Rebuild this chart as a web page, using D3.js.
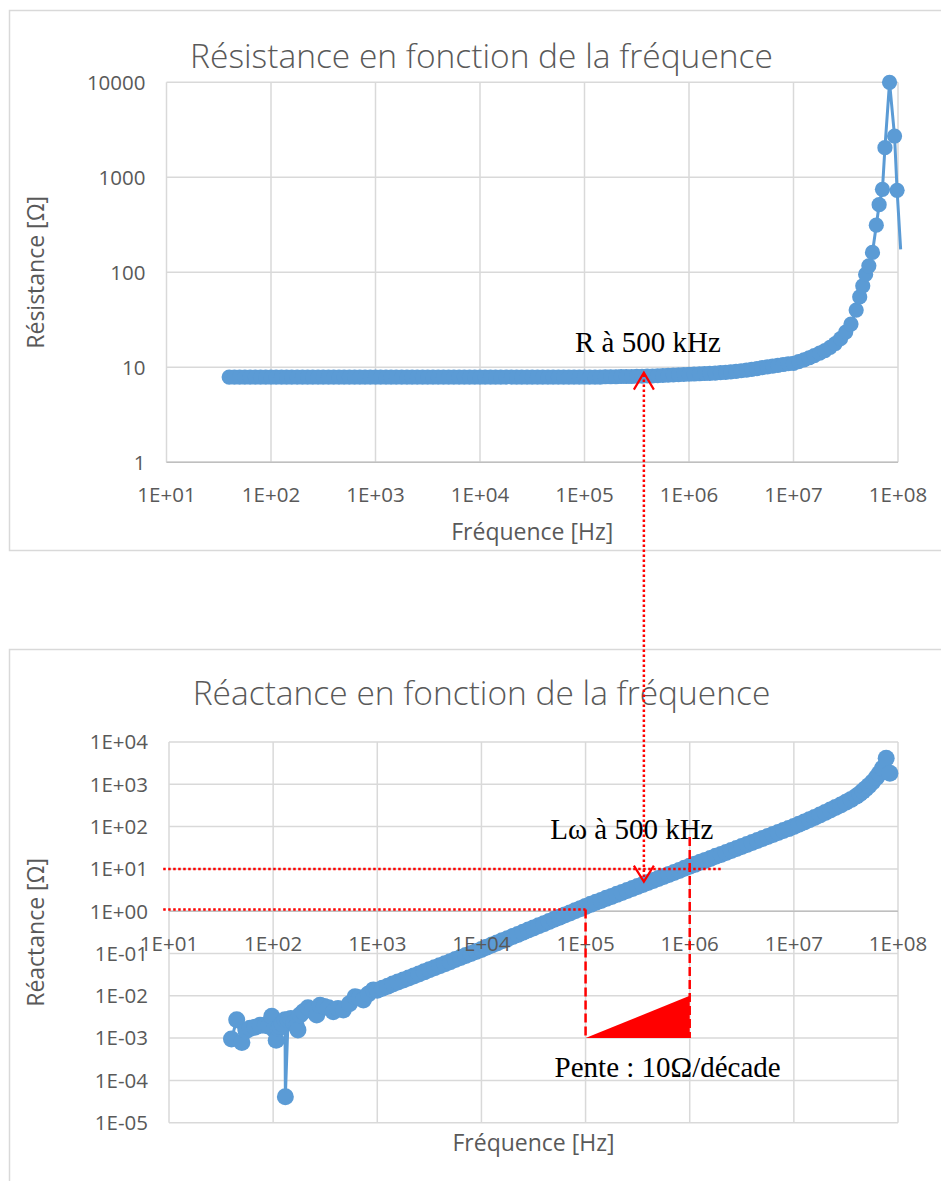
<!DOCTYPE html>
<html><head><meta charset="utf-8">
<script src="https://cdn.jsdelivr.net/npm/d3@7"></script>
<style>
body{margin:0;background:#fff;}
svg{display:block;font-family:"Open Sans",sans-serif;}
</style></head><body>
<svg id="c" width="941" height="1181"></svg>
<script>
// ---------- DATA ----------
const resFreq = [
 3.98e1,4.47e1,5.01e1,5.62e1,6.31e1,7.08e1,7.94e1,8.91e1,
 1e2,1.12e2,1.26e2,1.41e2,1.58e2,1.78e2,2e2,2.24e2,2.51e2,2.82e2,3.16e2,3.55e2,3.98e2,4.47e2,5.01e2,5.62e2,6.31e2,7.08e2,7.94e2,8.91e2,
 1e3,1.12e3,1.26e3,1.41e3,1.58e3,1.78e3,2e3,2.24e3,2.51e3,2.82e3,3.16e3,3.55e3,3.98e3,4.47e3,5.01e3,5.62e3,6.31e3,7.08e3,7.94e3,8.91e3,
 1e4,1.12e4,1.26e4,1.41e4,1.58e4,1.78e4,2e4,2.24e4,2.51e4,2.82e4,3.16e4,3.55e4,3.98e4,4.47e4,5.01e4,5.62e4,6.31e4,7.08e4,7.94e4,8.91e4,
 1e5,1.12e5,1.26e5,1.41e5,1.58e5,1.78e5,2e5,2.24e5,2.51e5,2.82e5,3.16e5,3.55e5,3.98e5,4.47e5,5.01e5,5.62e5,6.31e5,7.08e5,7.94e5,8.91e5,
 1e6,1.12e6,1.26e6,1.41e6,1.58e6,1.78e6,2e6,2.24e6,2.51e6,2.82e6,3.16e6,3.55e6,3.98e6,4.47e6,5.01e6,5.62e6,6.31e6,7.08e6,7.94e6,8.91e6,
 1e7,1.12e7,1.26e7,1.41e7,1.58e7,1.78e7,2e7,2.24e7,2.51e7,2.82e7,3.16e7,3.55e7,3.98e7,4.3e7,4.6e7,4.9e7,5.26e7,5.7e7,6.2e7,6.6e7,7.1e7,7.5e7,8.3e7,9.27e7,9.8e7,1.06e8
];
const resVals = [
 7.9,7.9,7.9,7.9,7.9,7.9,7.9,7.9,
 7.9,7.9,7.9,7.9,7.9,7.9,7.9,7.9,7.9,7.9,7.9,7.9,7.9,7.9,7.9,7.9,7.9,7.9,7.9,7.9,
 7.9,7.9,7.9,7.9,7.9,7.9,7.9,7.9,7.9,7.9,7.9,7.9,7.9,7.9,7.9,7.9,7.9,7.9,7.9,7.9,
 7.9,7.9,7.9,7.9,7.9,7.9,7.9,7.9,7.9,7.9,7.9,7.9,7.9,7.9,7.9,7.9,7.9,7.9,7.9,7.9,
 7.9,7.9,7.9,7.9,7.95,7.95,7.95,8.0,8.0,8.0,8.05,8.05,8.1,8.1,8.15,8.2,8.25,8.3,8.35,8.4,
 8.45,8.5,8.55,8.6,8.65,8.7,8.8,8.85,8.95,9.05,9.2,9.35,9.5,9.7,9.9,10.1,10.3,10.5,10.7,10.9,
 11.0,11.5,12.0,12.6,13.3,14.1,15.0,16.2,17.8,20.0,23.5,28.5,40,55,72,95,117,162,313,515,748,2050,10000,2720,730,174
];
const reaFreq = [
 39.8,44.7,50.1,55,60,67,75,84,91,97,102,107,112,116,122,130,131,139,148,158,167,173,181,195,216,238,262,282,310,340,378,420,472,540,612,670,735,820,918,
 1e3,1.12e3,1.26e3,1.41e3,1.58e3,1.78e3,2e3,2.24e3,2.51e3,2.82e3,3.16e3,3.55e3,3.98e3,4.47e3,5.01e3,5.62e3,6.31e3,7.08e3,7.94e3,8.91e3,
 1e4,1.12e4,1.26e4,1.41e4,1.58e4,1.78e4,2e4,2.24e4,2.51e4,2.82e4,3.16e4,3.55e4,3.98e4,4.47e4,5.01e4,5.62e4,6.31e4,7.08e4,7.94e4,8.91e4,
 1e5,1.12e5,1.26e5,1.41e5,1.58e5,1.78e5,2e5,2.24e5,2.51e5,2.82e5,3.16e5,3.55e5,3.98e5,4.47e5,5.01e5,5.62e5,6.31e5,7.08e5,7.94e5,8.91e5,
 1e6,1.12e6,1.26e6,1.41e6,1.58e6,1.78e6,2e6,2.24e6,2.51e6,2.82e6,3.16e6,3.55e6,3.98e6,4.47e6,5.01e6,5.62e6,6.31e6,7.08e6,7.94e6,8.91e6,
 1e7,1.12e7,1.26e7,1.41e7,1.58e7,1.78e7,2e7,2.24e7,2.51e7,2.82e7,3.16e7,3.55e7,3.98e7,4.3e7,4.6e7,4.9e7,5.26e7,5.7e7,6.2e7,6.6e7,7.1e7,7.7e7,8.36e7
];
const reaVals = [
 9.5e-4,2.7e-3,7.9e-4,1.5e-3,1.7e-3,1.8e-3,2.0e-3,2.0e-3,1.9e-3,3.3e-3,1.6e-3,8.9e-4,1.7e-3,1.9e-3,2.2e-3,2.7e-3,4.1e-5,2.7e-3,2.9e-3,2.3e-3,1.9e-3,1.55e-3,3.5e-3,4.2e-3,5.2e-3,4.6e-3,3.5e-3,6.0e-3,5.6e-3,5.2e-3,4.2e-3,5.0e-3,4.6e-3,6.5e-3,9.5e-3,9.0e-3,8.0e-3,1.1e-2,1.38e-2,
 0.0135,0.0151,0.0169,0.0189,0.0211,0.0236,0.0263,0.0294,0.0329,0.0368,0.0411,0.0460,0.0514,0.0575,0.0642,0.0718,0.0803,0.0898,0.100,0.112,
 0.125,0.140,0.158,0.178,0.200,0.224,0.252,0.283,0.318,0.358,0.402,0.452,0.508,0.571,0.642,0.721,0.811,0.911,1.02,1.15,
 1.30,1.45,1.62,1.80,2.01,2.24,2.50,2.78,3.10,3.46,3.86,4.30,4.79,5.34,5.96,6.64,7.40,8.25,9.20,10.3,
 11.5,12.8,14.3,15.9,17.7,19.8,22.0,24.5,27.3,30.4,33.9,37.8,42.1,46.9,52.2,58.2,64.8,72.2,80.4,89.6,
 100,113,128,145,165,188,215,246,283,326,378,440,520,600,690,790,930,1130,1450,1800,2400,4120,1820
];
const freqTicks = [1e1,1e2,1e3,1e4,1e5,1e6,1e7,1e8];
const freqTickLabels = ["1E+01","1E+02","1E+03","1E+04","1E+05","1E+06","1E+07","1E+08"];
const resTicks = [1,10,100,1000,10000];
const resTickLabels = ["1","10","100","1000","10000"];
const reaTicks = [1e-5,1e-4,1e-3,1e-2,1e-1,1e0,1e1,1e2,1e3,1e4];
const reaTickLabels = ["1E-05","1E-04","1E-03","1E-02","1E-01","1E+00","1E+01","1E+02","1E+03","1E+04"];
const annotF = 3.7e5;   // frequency of the annotation arrow
const annotR = 8.8;     // resistance at arrow tip
const annotX = 5.0;     // reactance at arrow tip

// ---------- DRAW ----------
const svg = d3.select("#c");
const BLUE = "#5B9BD5", GRID = "#D9D9D9", TXT = "#595959", RED = "#FF0000";

svg.append("rect").attr("x",9.5).attr("y",10.5).attr("width",945).attr("height",540)
  .attr("fill","#fff").attr("stroke",GRID).attr("stroke-width",1.5);
svg.append("rect").attr("x",9.5).attr("y",649.5).attr("width",945).attr("height",560)
  .attr("fill","#fff").attr("stroke",GRID).attr("stroke-width",1.5);

function chart(cfg){
  const g = svg.append("g");
  const x = d3.scaleLog().domain([1e1,1e8]).range([cfg.left,cfg.right]);
  const y = d3.scaleLog().domain(cfg.yDomain).range([cfg.bottom,cfg.top]);
  g.selectAll(".vg").data(freqTicks).join("line")
    .attr("x1",d=>x(d)).attr("x2",d=>x(d)).attr("y1",cfg.top).attr("y2",cfg.bottom)
    .attr("stroke",GRID).attr("stroke-width",1.5);
  g.selectAll(".hg").data(cfg.yTicks).join("line")
    .attr("y1",d=>y(d)).attr("y2",d=>y(d)).attr("x1",cfg.left).attr("x2",cfg.right)
    .attr("stroke",GRID).attr("stroke-width",1.5);
  g.append("line").attr("x1",cfg.left).attr("x2",cfg.right).attr("y1",y(1)).attr("y2",y(1))
    .attr("stroke","#BFBFBF").attr("stroke-width",1.5);
  const pts = cfg.freq.map((f,i)=>[f,cfg.vals[i]]);
  g.append("path").datum(pts)
    .attr("d",d3.line().x(d=>x(d[0])).y(d=>y(d[1])))
    .attr("fill","none").attr("stroke",BLUE).attr("stroke-width",3).attr("stroke-linejoin","round");
  g.selectAll(".m").data(pts.filter(d=>d[0]<=1e8)).join("circle")
    .attr("cx",d=>x(d[0])).attr("cy",d=>y(d[1])).attr("r",cfg.r).attr("fill",BLUE);
  g.selectAll(".xl").data(freqTicks).join("text")
    .attr("x",d=>x(d)).attr("y",y(1)+39.5).attr("text-anchor","middle")
    .attr("font-size",20.5).attr("fill",TXT).text((d,i)=>freqTickLabels[i]);
  g.selectAll(".yl").data(cfg.yTicks).join("text")
    .attr("x",cfg.left-21).attr("y",d=>y(d)).attr("dy","0.36em").attr("text-anchor","end")
    .attr("font-size",20.5).attr("fill",TXT).text((d,i)=>cfg.yLabels[i]);
  g.append("text").attr("x",481.5).attr("y",cfg.titleY).attr("text-anchor","middle")
    .attr("font-size",33.5).attr("font-weight",300).attr("fill",TXT).text(cfg.title);
  g.append("text").attr("x",(cfg.left+cfg.right)/2).attr("y",cfg.xTitleY).attr("text-anchor","middle")
    .attr("font-size",23).attr("fill",TXT).text("Fréquence [Hz]");
  g.append("text").attr("transform",`translate(36,${(cfg.top+cfg.bottom)/2}) rotate(-90)`)
    .attr("dy","0.36em").attr("text-anchor","middle")
    .attr("font-size",23).attr("fill",TXT).text(cfg.yTitle);
  return {x,y};
}

const chTop = chart({left:166.5,right:898,top:82.3,bottom:462.3,yDomain:[1,1e4],
  yTicks:resTicks,yLabels:resTickLabels,freq:resFreq,vals:resVals,r:7.6,
  title:"Résistance en fonction de la fréquence",titleY:68,xTitleY:540,yTitle:"Résistance [Ω]"});
const chBot = chart({left:169,right:898,top:742,bottom:1122.7,yDomain:[1e-5,1e4],
  yTicks:reaTicks,yLabels:reaTickLabels,freq:reaFreq,vals:reaVals,r:8.5,
  title:"Réactance en fonction de la fréquence",titleY:705,xTitleY:1151,yTitle:"Réactance [Ω]"});

// ---------- ANNOTATIONS ----------
const a = svg.append("g");
const ax = chTop.x(annotF);
const tipTop = chTop.y(annotR), tipBot = chBot.y(annotX);
a.append("line").attr("x1",ax).attr("x2",ax).attr("y1",tipTop+2).attr("y2",tipBot-2)
  .attr("stroke",RED).attr("stroke-width",2.5).attr("stroke-dasharray","2.5,2.5");
a.append("path").attr("d",`M${ax-10},${tipTop+17}L${ax},${tipTop}L${ax+10},${tipTop+17}`)
  .attr("fill","none").attr("stroke",RED).attr("stroke-width",2.2);
a.append("path").attr("d",`M${ax-10},${tipBot-16}L${ax},${tipBot}L${ax+10},${tipBot-16}`)
  .attr("fill","none").attr("stroke",RED).attr("stroke-width",2.2);
a.append("line").attr("x1",chBot.x(8.8)).attr("x2",chBot.x(2e6)).attr("y1",chBot.y(10)).attr("y2",chBot.y(10))
  .attr("stroke",RED).attr("stroke-width",2.5).attr("stroke-dasharray","2.5,2.5");
a.append("line").attr("x1",chBot.x(8.8)).attr("x2",chBot.x(1e5)).attr("y1",chBot.y(1.1)).attr("y2",chBot.y(1.1))
  .attr("stroke",RED).attr("stroke-width",2.5).attr("stroke-dasharray","2.5,2.5");
a.append("line").attr("x1",chBot.x(1e5)).attr("x2",chBot.x(1e5)).attr("y1",chBot.y(1.1)).attr("y2",chBot.y(1e-3))
  .attr("stroke",RED).attr("stroke-width",2.5).attr("stroke-dasharray","9,4");
a.append("line").attr("x1",chBot.x(1e6)).attr("x2",chBot.x(1e6)).attr("y1",chBot.y(57)).attr("y2",chBot.y(1e-3))
  .attr("stroke",RED).attr("stroke-width",2.5).attr("stroke-dasharray","9,4");
a.append("path").attr("d",`M${chBot.x(1e5)},${chBot.y(1e-3)}L${chBot.x(1e6)},${chBot.y(1e-3)}L${chBot.x(1e6)},${chBot.y(1e-2)}Z`)
  .attr("fill",RED);
const serif = '"Liberation Serif","Times New Roman",serif';
a.append("text").attr("x",ax+4).attr("y",tipTop-21).attr("text-anchor","middle")
  .attr("font-family",serif).attr("font-size",29).attr("fill","#000").text("R à 500 kHz");
a.append("text").attr("x",ax-12).attr("y",chBot.y(10)-30).attr("text-anchor","middle")
  .attr("font-family",serif).attr("font-size",29).attr("fill","#000").text("Lω à 500 kHz");
a.append("text").attr("x",(chBot.x(1e5)+chBot.x(1e6))/2+30).attr("y",chBot.y(1e-3)+38.5).attr("text-anchor","middle")
  .attr("font-family",serif).attr("font-size",29).attr("fill","#000").text("Pente : 10Ω/décade");
</script>
</body></html>
